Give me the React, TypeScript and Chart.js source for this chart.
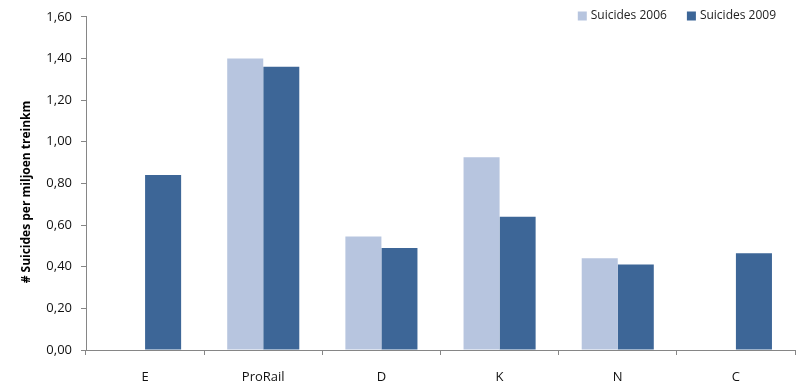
import React, { useEffect, useRef } from "react";
import { Chart, registerables } from "chart.js";

Chart.register(...registerables);

const categories = ["E", "ProRail", "D", "K", "N", "C"];
const suicides2006: (number | null)[] = [null, 1.4, 0.545, 0.925, 0.44, null];
const suicides2009: (number | null)[] = [0.84, 1.36, 0.49, 0.64, 0.41, 0.465];
const yTicks = [0, 0.2, 0.4, 0.6, 0.8, 1.0, 1.2, 1.4, 1.6];
const yTitle = "# Suicides per miljoen treinkm";

const FONT = "'Open Sans', sans-serif";

const legendPlugin = {
  id: "customLegend",
  afterDraw(chart: any) {
    const ctx = chart.ctx;
    const ds = chart.data.datasets;
    ctx.save();
    ctx.font = `12px ${FONT}`;
    ctx.textBaseline = "middle";
    ctx.textAlign = "left";
    const box = 9;
    const gapBoxText = 4;
    const gapItems = 20;
    const cy = 16;
    let x = 776;
    const items = ds.map((d: any) => ({ label: d.label, color: d.backgroundColor, w: ctx.measureText(d.label).width }));
    for (let i = items.length - 1; i >= 0; i--) {
      const it = items[i];
      const textX = x - it.w;
      const boxX = textX - gapBoxText - box;
      ctx.fillStyle = it.color;
      ctx.fillRect(boxX, cy - box / 2, box, box);
      ctx.fillStyle = "#222";
      ctx.fillText(it.label, textX, cy);
      x = boxX - gapItems;
    }
    // y-axis title
    ctx.translate(27, 192);
    ctx.rotate(-Math.PI / 2);
    ctx.font = `bold 12px ${FONT}`;
    ctx.fillStyle = "#000";
    ctx.textAlign = "center";
    ctx.textBaseline = "middle";
    ctx.fillText(yTitle, 0, 0);
    ctx.restore();
  },
};

export default function App() {
  const ref = useRef<HTMLCanvasElement | null>(null);
  useEffect(() => {
    if (!ref.current) return;
    const chart = new Chart(ref.current, {
      type: "bar",
      data: {
        labels: categories,
        datasets: [
          {
            label: "Suicides 2006",
            data: suicides2006,
            backgroundColor: "#B7C5DF",
            borderWidth: 0,
            categoryPercentage: 0.61,
            barPercentage: 1,
          },
          {
            label: "Suicides 2009",
            data: suicides2009,
            backgroundColor: "#3D6697",
            borderWidth: 0,
            categoryPercentage: 0.61,
            barPercentage: 1,
          },
        ],
      },
      options: {
        responsive: false,
        animation: false,
        layout: { padding: { left: 0, right: 3, top: 14, bottom: 0 } },
        plugins: {
          legend: { display: false },
          tooltip: { enabled: false },
        },
        scales: {
          x: {
            offset: true,
            grid: {
              offset: true,
              drawOnChartArea: false,
              tickLength: 5,
              color: "#868686",
            },
            border: { color: "#868686" },
            ticks: {
              color: "#111",
              padding: 14,
              font: { family: FONT, size: 13 },
            },
            afterFit: (s: any) => {
              s.height = 35;
            },
          },
          y: {
            min: 0,
            max: 1.6,
            afterBuildTicks: (s: any) => {
              s.ticks = yTicks.map((v) => ({ value: v }));
            },
            grid: {
              drawOnChartArea: false,
              tickLength: 5,
              color: "#868686",
            },
            border: { color: "#868686" },
            ticks: {
              color: "#111",
              padding: 9,
              font: { family: FONT, size: 13 },
              callback: (v: any) => Number(v).toFixed(2).replace(".", ","),
            },
            title: { display: false },
            afterFit: (s: any) => {
              s.width = 86;
            },
          },
        },
      },
      plugins: [legendPlugin],
    });
    return () => chart.destroy();
  }, []);
  return (
    <div style={{ position: "absolute", left: 0, top: 0, width: 798, height: 385, background: "#fff" }}>
      <canvas ref={ref} width={798} height={385} />
    </div>
  );
}
